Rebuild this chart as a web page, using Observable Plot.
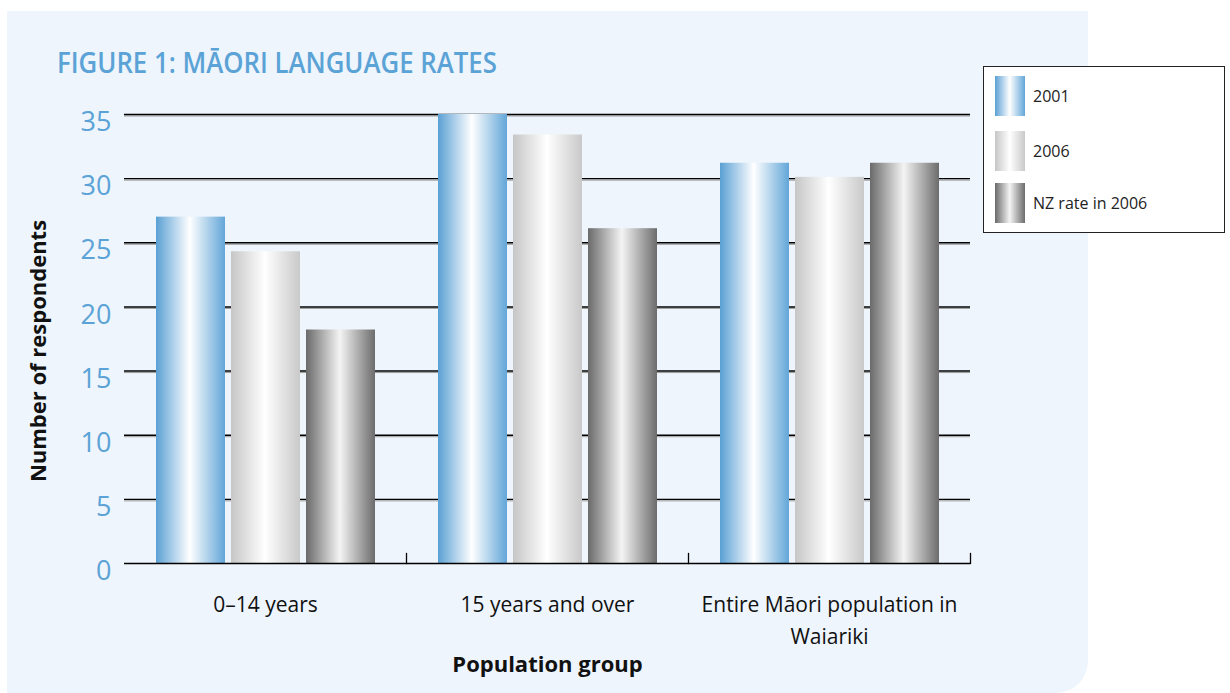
<!DOCTYPE html>
<html>
<head>
<meta charset="utf-8">
<script src="https://cdn.jsdelivr.net/npm/d3@7"></script>
<script src="https://cdn.jsdelivr.net/npm/@observablehq/plot@0.6"></script>
<style>
  html, body { margin: 0; padding: 0; }
  body { width: 1230px; height: 693px; position: relative; overflow: hidden; background: #ffffff; font-family: "Open Sans", sans-serif; }
  #panel { position: absolute; left: 7px; top: 11px; width: 1081px; height: 682px; background: #eef5fc; border-bottom-right-radius: 32px; }
  #title { position: absolute; left: 57px; top: 48px; font-size: 28px; line-height: 28px; color: #5ba3d6; font-weight: 600; white-space: nowrap; transform: scaleX(0.92); transform-origin: left center; }
  #chart { position: absolute; left: 0; top: 0; }
  #legend { position: absolute; left: 983px; top: 66px; width: 240px; height: 165px; background: #ffffff; border: 1.5px solid #222; box-sizing: content-box; }
  .item { position: absolute; left: 11px; height: 40px; display: flex; align-items: center; }
  .sw { width: 30px; height: 40px; margin-right: 8px; flex: none; }
  .lab { font-size: 16px; color: #222; white-space: nowrap; }
</style>
</head>
<body>
<div id="panel"></div>
<div id="chart"></div>
<div id="title">FIGURE 1: MĀORI LANGUAGE RATES</div>
<div id="legend"></div>
<script>
// ---- data ----
const groups = ["0–14 years", "15 years and over", "Entire Māori population in\nWaiariki"];
const series = ["2001", "2006", "NZ rate in 2006"];
const values2001 = [27.0, 35.0, 31.2];
const values2006 = [24.3, 33.4, 30.1];
const valuesNZ = [18.2, 26.1, 31.2];
const yTicks = [0, 5, 10, 15, 20, 25, 30, 35];
const yLabel = "Number of respondents";
const xLabel = "Population group";

// gradient definitions per series (edge, centre, edge)
const gradients = [
  {id: "g2001", stops: ["#5aa0d4", "#ffffff", "#62a6d8"]},
  {id: "g2006", stops: ["#c6c6c6", "#ffffff", "#c9c9c9"]},
  {id: "gNZ",   stops: ["#6a6a6a", "#f4f4f4", "#6c6c6c"]}
];

const seriesValues = [values2001, values2006, valuesNZ];
const data = groups.flatMap((g, i) => series.map((s, j) => ({group: g, series: s, value: seriesValues[j][i]})));

const plot = Plot.plot({
  width: 1230,
  height: 693,
  marginLeft: 123,
  marginRight: 259,
  marginTop: 114,
  marginBottom: 130,
  style: {background: "transparent", fontFamily: "'Open Sans', sans-serif", overflow: "visible"},
  fx: {domain: groups, padding: 0, label: null},
  x: {domain: series, paddingInner: 0.086, paddingOuter: 0.417, axis: null},
  y: {domain: [0, 35], axis: null},
  color: {domain: series, range: gradients.map(g => `url(#${g.id})`)},
  marks: [
    Plot.ruleY(yTicks.filter(d => d > 0), {stroke: "#9a9a9a", strokeWidth: 1, dy: 1.5}),
    Plot.ruleY(yTicks.filter(d => d > 0), {stroke: "#000", strokeWidth: 1.4}),
    Plot.barY(data, {fx: "group", x: "series", y: "value", fill: "series"}),
    Plot.ruleY([0], {stroke: "#000", strokeWidth: 1.5}),
    Plot.frame({anchor: "right", insetTop: 439, stroke: "#000", strokeWidth: 1.3}),
    Plot.axisY({ticks: [], tickSize: 0, line: true, stroke: "#000", strokeWidth: 1.5, label: null}),
    Plot.axisY(yTicks, {anchor: "left", tickSize: 0, tickPadding: 13, fontSize: 27, fill: "#5ba3d6", dy: 8, label: null}),
    Plot.axisFx({anchor: "bottom", tickSize: 0, tickPadding: 26, fontSize: 21, fill: "#111", lineHeight: 1.52, label: null}),
    Plot.text([yLabel], {frameAnchor: "left", textAnchor: "middle", rotate: -90, dx: -86, dy: 12, fontSize: 22, fontWeight: "bold", fill: "#111", facet: "super"}),
    Plot.text([xLabel], {frameAnchor: "bottom", lineAnchor: "middle", dy: 101, fontSize: 22, fontWeight: "bold", fill: "#111", facet: "super"})
  ]
});

// add gradient defs
const defs = d3.select(plot).insert("defs", ":first-child");
gradients.forEach(g => {
  const lg = defs.append("linearGradient").attr("id", g.id).attr("x1", "0").attr("x2", "1").attr("y1", "0").attr("y2", "0");
  lg.append("stop").attr("offset", "0%").attr("stop-color", g.stops[0]);
  lg.append("stop").attr("offset", "49%").attr("stop-color", g.stops[1]);
  lg.append("stop").attr("offset", "100%").attr("stop-color", g.stops[2]);
});
document.getElementById("chart").appendChild(plot);

// legend
const legend = document.getElementById("legend");
const tops = [9, 64, 116];
series.forEach((s, i) => {
  const g = gradients[i];
  const item = document.createElement("div");
  item.className = "item";
  item.style.top = tops[i] + "px";
  const sw = document.createElement("div");
  sw.className = "sw";
  sw.style.background = `linear-gradient(to right, ${g.stops[0]} 0%, ${g.stops[1]} 49%, ${g.stops[2]} 100%)`;
  const lab = document.createElement("span");
  lab.className = "lab";
  lab.textContent = s;
  item.appendChild(sw);
  item.appendChild(lab);
  legend.appendChild(item);
});
</script>
</body>
</html>
